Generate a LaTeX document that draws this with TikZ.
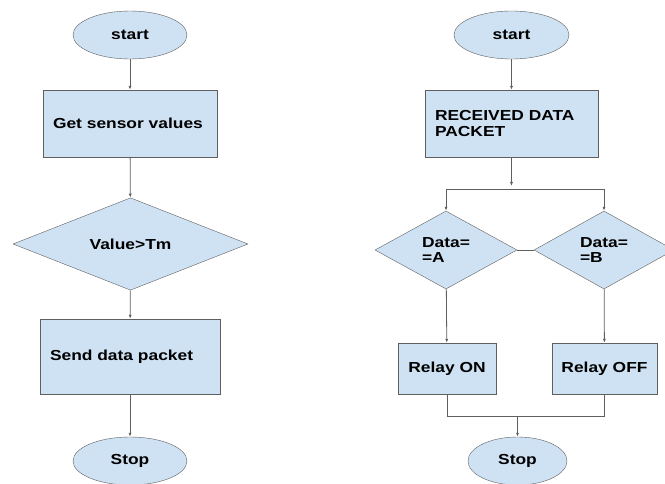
\documentclass[tikz,border=0pt]{standalone}
\usepackage{fontspec}
\newfontfamily\chartfont{Liberation Sans}[FakeStretch=1.2]
\usetikzlibrary{shapes.geometric,arrows.meta}
\definecolor{boxblue}{HTML}{CFE2F3}
\definecolor{linegray}{HTML}{5F5F5F}

\begin{document}
\begin{tikzpicture}[x=1pt,y=-1pt,
  every node/.style={font=\chartfont\bfseries\fontsize{14.5}{15.5}\selectfont},
  term node/.style={ellipse,draw=linegray,fill=boxblue,inner sep=0pt},
  proc node/.style={rectangle,draw=linegray,fill=boxblue,inner xsep=10pt,inner ysep=0pt,align=left},
  test node/.style={diamond,draw=linegray,fill=boxblue,inner sep=0pt,align=left},
  flow/.style={draw=linegray,line width=0.8pt},
  flow arrow/.style={flow,-{Latex[length=4pt,width=3pt]}}]
  \useasboundingbox (0,0) rectangle (665,484);

  % left chart
  \node[term node,minimum width=114pt,minimum height=48pt] (startL) at (130,35) {start};
  \node[proc node,text width=154pt,minimum height=67pt] (sense) at (130,123.5) {Get sensor values};
  \node[test node,minimum width=235pt,minimum height=80pt] (check) at (130.5,244) {Value>Tm};
  \node[proc node,text width=160pt,minimum height=75pt] (send) at (130,356.5) {Send data packet};
  \node[term node,minimum width=114pt,minimum height=48pt] (stopL) at (130,461) {Stop};

  \path (startL) [flow arrow] edge (sense);
  \path (sense) [flow arrow] edge (check);
  \path (check) [flow arrow] edge (send);
  \path (send) [flow arrow] edge (stopL);

  % right chart
  \node[term node,minimum width=115pt,minimum height=48pt] (startR) at (511.5,35) {start};
  \node[proc node,text width=153pt,minimum height=67pt] (recv) at (511.5,123.5) {RECEIVED DATA\\PACKET};
  \node[test node,minimum width=142pt,minimum height=78pt] (dataA) at (446,250) {Data=\\=A};
  \node[test node,minimum width=140pt,minimum height=78pt] (dataB) at (604,250) {Data=\\=B};
  \node[proc node,inner xsep=0pt,minimum width=98pt,minimum height=51pt] (relayon) at (447,368.5) {Relay ON};
  \node[proc node,inner xsep=0pt,minimum width=105pt,minimum height=51pt] (relayoff) at (604.5,368.5) {Relay OFF};
  \node[term node,minimum width=99pt,minimum height=48pt] (stopR) at (517.5,461) {Stop};

  \coordinate (splitM) at (511.5,186);
  \coordinate (splitL) at (446,189);
  \coordinate (splitR) at (604,189);
  \coordinate (joinL) at (447,416);
  \coordinate (joinR) at (604.5,416);
  \coordinate (joinM) at (517.5,416);

  \path (startR) [flow arrow] edge (recv);
  \draw[flow arrow] (recv) -- (splitM);
  \draw[flow] (splitL) -- (splitR);
  \draw[flow arrow] (splitL) -- (dataA);
  \draw[flow arrow] (splitR) -- (dataB);
  \draw[flow] (dataA.east) -- (dataB.west);
  \path (dataA) [flow arrow] edge (relayon);
  \path (dataB) [flow arrow] edge (relayoff);
  \draw[flow] (relayon.south) -- (joinL) -- (joinR) -- (relayoff.south);
  \draw[flow arrow] (joinM) -- (stopR);
\end{tikzpicture}
\end{document}
